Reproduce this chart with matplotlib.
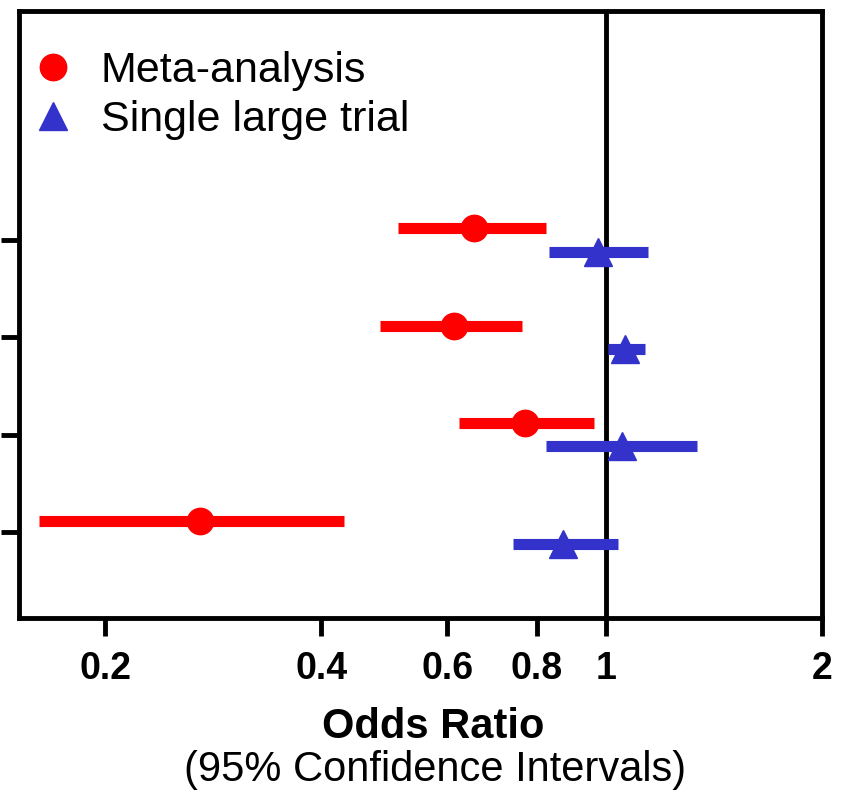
import matplotlib
matplotlib.use("Agg")
import matplotlib.pyplot as plt
from matplotlib.lines import Line2D
from matplotlib.ticker import FixedLocator, NullLocator

plt.rcParams['font.family'] = ['Liberation Sans', 'DejaVu Sans']

# rows from top (4) to bottom (1)
rows = [4, 3, 2, 1]

meta_or = [0.654, 0.613, 0.770, 0.271]
meta_lo = [0.512, 0.483, 0.623, 0.1616]
meta_hi = [0.824, 0.763, 0.962, 0.431]

trial_or = [0.975, 1.063, 1.053, 0.871]
trial_lo = [0.832, 1.006, 0.824, 0.741]
trial_hi = [1.145, 1.134, 1.340, 1.039]

xticks = [0.2, 0.4, 0.6, 0.8, 1, 2]
xticklabels = ["0.2", "0.4", "0.6", "0.8", "1", "2"]

red = "#ff0000"
blue = "#3333cc"
off = 0.12

fig = plt.figure(figsize=(8.44, 7.94), dpi=100)
ax = fig.add_axes([0.0225, 0.2217, 0.9515, 0.7645])

ax.axvline(1, color="black", lw=3.5, zorder=1)

y_meta = [r + off for r in rows]
y_trial = [r - off for r in rows]

ax.errorbar(meta_or, y_meta,
            xerr=[[m - l for m, l in zip(meta_or, meta_lo)],
                  [h - m for m, h in zip(meta_or, meta_hi)]],
            fmt="o", color=red, ms=19, elinewidth=8, capsize=0, zorder=3)
ax.errorbar(trial_or, y_trial,
            xerr=[[m - l for m, l in zip(trial_or, trial_lo)],
                  [h - m for m, h in zip(trial_or, trial_hi)]],
            fmt="^", color=blue, ms=20, elinewidth=8, capsize=0, zorder=3)

ax.set_xscale("log")
ax.set_xlim(0.1515, 2.0)
ax.set_ylim(0.12, 6.35)

ax.xaxis.set_major_locator(FixedLocator(xticks))
ax.xaxis.set_minor_locator(NullLocator())
ax.set_xticklabels(xticklabels, fontsize=27, fontweight="bold",
                   family=["Liberation Sans Narrow", "Liberation Sans"])
ax.set_yticks(rows)
ax.set_yticklabels([])
ax.tick_params(axis="both", length=13, width=3.5, direction="out")
ax.tick_params(axis="x", pad=11)

for sp in ax.spines.values():
    sp.set_linewidth(3.5)

handles = [
    Line2D([], [], marker="o", ls="none", color=red, ms=19),
    Line2D([], [], marker="^", ls="none", color=blue, ms=20),
]
ax.legend(handles, ["Meta-analysis", "Single large trial"],
          loc="upper left", frameon=False, fontsize=31,
          handlelength=1.0, handletextpad=0.6, labelspacing=0.2,
          borderaxespad=0.4, bbox_to_anchor=(-0.027, 0.99))

fig.text(0.513, 0.085, "Odds Ratio", ha="center", va="center",
         fontsize=30, fontweight="bold")
fig.text(0.515, 0.030, "(95% Confidence Intervals)", ha="center",
         va="center", fontsize=30)

fig.savefig("out.png", dpi=100)
